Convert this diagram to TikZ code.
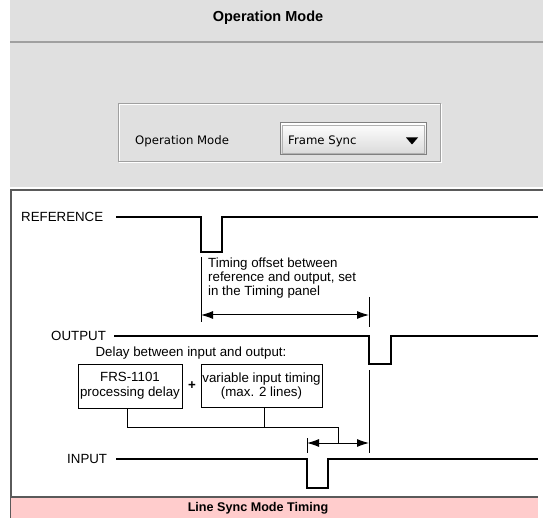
\documentclass[tikz,border=0pt]{standalone}
\usepackage{fontspec}
\setmainfont{Liberation Sans}
\newfontfamily\guifont{DejaVu Sans}
\usetikzlibrary{arrows.meta}
\definecolor{guigray}{RGB}{224,224,224}
\definecolor{guiedge}{RGB}{160,160,160}
\definecolor{framegray}{RGB}{90,90,90}
\definecolor{bandpink}{RGB}{255,204,204}
\begin{document}
\begin{tikzpicture}
[x=1pt,y=-1pt,
  sigline/.style={line width=1.4pt,line join=miter},
  helpline/.style={line width=0.9pt},
  dimarrow/.style={line width=1pt,{Latex[length=12pt,width=8pt]}-{Latex[length=12pt,width=8pt]}},
  sigtext/.style={font=\fontsize{13.3}{13.8}\selectfont,inner sep=0pt},
  delaybox/.style={draw,line width=0.9pt,align=center,inner sep=0pt,font=\fontsize{13.3}{14.8}\selectfont},
  guitext/.style={font=\guifont\fontsize{11.7}{13}\selectfont,inner sep=0pt}]
\useasboundingbox (0,0) rectangle (543,518);
% operation mode panel
\fill[guigray] (10,0) rectangle (543,187);
\draw[guiedge,line width=1.2pt] (10,42) -- (543,42);
\node (title) at (268,18) [font=\bfseries\fontsize{14.5}{16}\selectfont] {Operation Mode};
\draw[white,line width=0.8pt] (119,104) rectangle (441,162);
\draw[guiedge,line width=0.8pt] (118,103) rectangle (440,161);
\node (modelabel) at (135,141) [guitext,anchor=west] {Operation Mode};
\shade[top color=white,bottom color=gray!30,draw=gray,line width=1pt] (280,123) rectangle (426,155);
\draw[gray!60,line width=0.6pt] (282,125) rectangle (424,153);
\node (modevalue) at (288,141) [guitext,anchor=west] {Frame Sync};
\fill (406,137.5) -- (418,137.5) -- (412,144.5) -- cycle;
% timing frame
\draw[framegray,line width=1.5pt] (11,518) -- (11,190) -- (543,190);
\fill[bandpink] (11,497) rectangle (538,518);
\draw[framegray,line width=1.3pt] (11,497) -- (538,497);
\node (caption) at (258,508) [font=\bfseries\fontsize{12.6}{14}\selectfont] {Line Sync Mode Timing};
% signal labels
\node (ref) at (21,217) [sigtext,anchor=west] {REFERENCE};
\node (out) at (51,336) [sigtext,anchor=west] {OUTPUT};
\node (in) at (67,459) [sigtext,anchor=west] {INPUT};
% waveforms
\draw[sigline] ([xshift=13pt]ref.east) -- (201,217) -- (201,252) -- (222,252) -- (222,217) -- (538,217);
\draw[sigline] ([xshift=8pt]out.east) -- (369,336) -- (369,364) -- (391,364) -- (391,336) -- (538,336);
\draw[sigline] ([xshift=9pt]in.east) -- (307,459) -- (307,488) -- (328,488) -- (328,459) -- (538,459);
% timing offset
\coordinate (offa) at (201,315);
\coordinate (offb) at (369,315);
\draw[helpline] (201,257) -- (201,322);
\draw[helpline] (369,297) -- (369,327);
\draw[dimarrow] (offa) -- (offb);
\node (offtext) at (208,278) [sigtext,anchor=west,align=left] {Timing offset between\\reference and output, set\\in the Timing panel};
% delay
\node (delaytext) at (191,353) [sigtext] {Delay between input and output:};
\node (procbox) at (130,386) [delaybox,minimum width=104pt,minimum height=44pt] {FRS-1101\\processing delay};
\node (plus) at (192,386) [font=\bfseries\fontsize{13.3}{14}\selectfont] {+};
\node (varbox) at (261.5,386) [delaybox,minimum width=121pt,minimum height=43pt] {variable input timing\\(max. 2 lines)};
\coordinate (dela) at (307,443);
\coordinate (delb) at (369,443);
\coordinate (join) at (338,427);
\draw[helpline] (369,370) -- (369,453);
\draw[helpline] (307,438) -- (307,453);
\draw[dimarrow] (dela) -- (delb);
\draw[helpline] ([xshift=-3pt]procbox.south) |- (join) -- (join |- dela);
\draw[helpline] ([xshift=2.5pt]varbox.south) -- +(0,20);
\end{tikzpicture}
\end{document}
